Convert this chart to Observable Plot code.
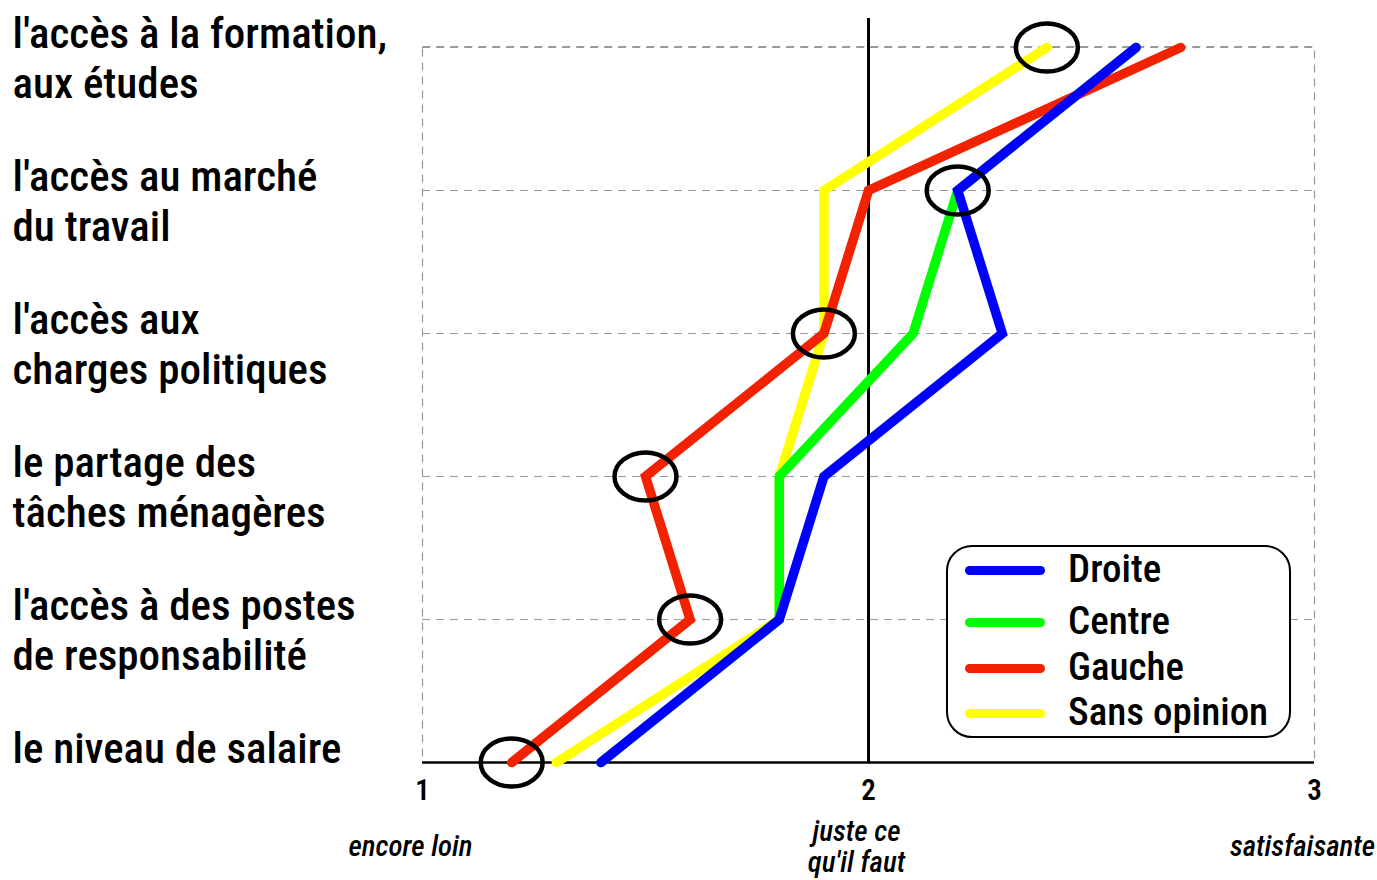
<!DOCTYPE html>
<html>
<head>
<meta charset="utf-8">
<script src="https://cdn.jsdelivr.net/npm/d3@7"></script>
<script src="https://cdn.jsdelivr.net/npm/@observablehq/plot@0.6"></script>
<style>
  html, body { margin: 0; padding: 0; background: #fff; }
  #wrap { position: relative; width: 1377px; height: 880px; font-family: "Liberation Sans Narrow", "Arial Narrow", "Roboto Condensed", "Liberation Sans", sans-serif; }
  #legend { position: absolute; left: 946px; top: 545px; width: 345px; height: 193px; box-sizing: border-box; border: 2.5px solid #000; border-radius: 26px; background: #fff; }
  .row { position: absolute; left: 0; height: 0; }
  .sw { position: absolute; left: 17px; width: 80px; height: 9px; margin-top: -4.5px; border-radius: 5px; }
  .lb { position: absolute; left: 120px; font-size: 39px; font-weight: 500; line-height: 40px; margin-top: -21px; white-space: nowrap; color: #000; }
</style>
</head>
<body>
<div id="wrap"></div>
<script>
// Categories (top to bottom)
const categories = [
  "l'accès à la formation,\naux études",
  "l'accès au marché\ndu travail",
  "l'accès aux\ncharges politiques",
  "le partage des\ntâches ménagères",
  "l'accès à des postes\nde responsabilité",
  "le niveau de salaire"
];
// Series (legend order) and colours
const series = ["Droite", "Centre", "Gauche", "Sans opinion"];
const colors = ["#0000ff", "#00ff00", "#f22200", "#ffff00"];
// Values per series, in category order
const droite      = [2.6, 2.2, 2.3, 1.9, 1.8, 1.4];
const centre      = [2.6, 2.2, 2.1, 1.8, 1.8, 1.4];
const gauche      = [2.7, 2.0, 1.9, 1.5, 1.6, 1.2];
const sansOpinion = [2.4, 1.9, 1.9, 1.8, 1.8, 1.3];
// Highlighted (circled) points, one per category
const circled = [2.4, 2.2, 1.9, 1.5, 1.6, 1.2];
// X axis
const xTicks = [1, 2, 3];
const xTickLabels = ["encore loin", "juste ce\nqu'il faut", "satisfaisante"];

// Build long table; drawing order: Sans opinion, Centre, Gauche, Droite (Droite on top)
const drawOrder = [["Sans opinion", sansOpinion], ["Centre", centre], ["Gauche", gauche], ["Droite", droite]];
const rows = [];
for (const [name, vals] of drawOrder) {
  vals.forEach((v, i) => rows.push({series: name, cat: categories[i], value: v}));
}
const circles = circled.map((v, i) => ({cat: categories[i], value: v}));

const ellipse = {
  draw(context) {
    const rx = 31, ry = 24, k = 0.5523;
    context.moveTo(rx, 0);
    context.bezierCurveTo(rx, ry * k, rx * k, ry, 0, ry);
    context.bezierCurveTo(-rx * k, ry, -rx, ry * k, -rx, 0);
    context.bezierCurveTo(-rx, -ry * k, -rx * k, -ry, 0, -ry);
    context.bezierCurveTo(rx * k, -ry, rx, -ry * k, rx, 0);
    context.closePath();
  }
};

const font = '"Liberation Sans Narrow", "Arial Narrow", "Roboto Condensed", "Liberation Sans", sans-serif';

const chart = Plot.plot({
  width: 1377,
  height: 880,
  marginLeft: 422,
  marginRight: 63,
  marginTop: 46,
  marginBottom: 118,
  style: {fontFamily: font, background: "#fff", color: "#000"},
  x: {domain: [1, 3], axis: null, label: null},
  y: {type: "point", domain: categories, padding: 0, axis: null},
  color: {domain: series, range: colors},
  marks: [
    Plot.gridY(categories, {stroke: "#999", strokeOpacity: 1, strokeWidth: 1.2, strokeDasharray: "8,6"}),
    Plot.frame({stroke: "#999", strokeWidth: 1.2, strokeDasharray: "8,6"}),
    Plot.ruleX([2], {stroke: "#000", strokeWidth: 3, insetTop: -28}),
    Plot.ruleY([categories[categories.length - 1]], {stroke: "#000", strokeWidth: 2.5}),
    Plot.line(rows, {x: "value", y: "cat", z: "series", stroke: "series", strokeWidth: 9.5, strokeLinecap: "round", strokeLinejoin: "miter", strokeMiterlimit: 10}),
    Plot.dot(circles, {x: "value", y: "cat", symbol: ellipse, r: 20, fill: "none", stroke: "#000", strokeWidth: 4.5}),
    Plot.text(categories, {y: d => d, text: d => d, frameAnchor: "left", dx: -410, textAnchor: "start", lineAnchor: "top", dy: -35, fontSize: 43, fontWeight: 500, lineHeight: 1.16, fill: "#000"}),
    Plot.axisX(xTicks, {tickSize: 0, tickPadding: 17, fontSize: 29, fontWeight: 600, label: null, tickFormat: d => String(d)}),
    Plot.text(xTicks, {x: d => d, text: (d, i) => xTickLabels[i], frameAnchor: "bottom", dy: 84, lineAnchor: "middle", fontSize: 29, fontWeight: 500, fontStyle: "italic", lineHeight: 1.06, dx: -12, fill: "#000"})
  ]
});
const wrap = document.getElementById("wrap");
wrap.appendChild(chart);

// Legend overlay
const legend = document.createElement("div");
legend.id = "legend";
const rowTops = [23, 75, 121, 166];
series.forEach((s, i) => {
  const r = document.createElement("div");
  r.className = "row";
  r.style.top = rowTops[i] + "px";
  const sw = document.createElement("span");
  sw.className = "sw";
  sw.style.background = colors[i];
  const lb = document.createElement("span");
  lb.className = "lb";
  lb.textContent = s;
  r.appendChild(sw); r.appendChild(lb);
  legend.appendChild(r);
});
wrap.appendChild(legend);
</script>
</body>
</html>
